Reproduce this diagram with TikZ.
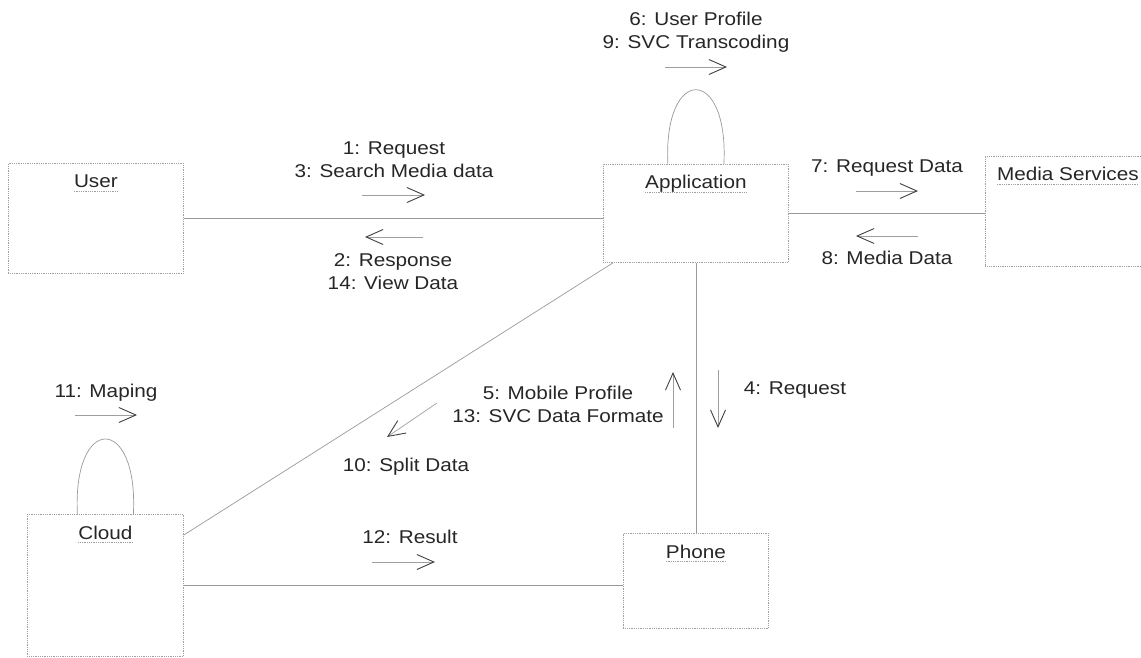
\documentclass[tikz,border=0pt]{standalone}
\usepackage{fontspec}
\setmainfont{Liberation Sans}[FakeStretch=1.12]
\usetikzlibrary{arrows.meta}
\begin{document}
\begin{tikzpicture}[x=1pt,y=-1pt,
  box/.style={draw=gray!75, densely dotted, line width=0.8pt, inner sep=0pt, anchor=north west},
  objname/.style={anchor=base, inner sep=0pt, text=black!85, font=\fontsize{18.5}{22}\selectfont},
  uline/.style={draw=gray!75, densely dotted, line width=0.8pt},
  link/.style={draw=gray!80, line width=0.7pt},
  msg/.style={draw=gray!75, line width=0.7pt, -{Straight Barb[length=17pt,width=15pt,line width=0.9pt,color=black!75]}},
  lbl/.style={text=black!85, font=\fontsize{18.5}{23}\selectfont, align=center, inner sep=0pt}]
\useasboundingbox (0,0) rectangle (1141,658);

% objects
\node[box, minimum width=175pt, minimum height=110pt] (user)  at (8,163)   {};
\node[box, minimum width=185pt, minimum height=98pt]  (app)   at (603,164) {};
\node[box, minimum width=165pt, minimum height=110pt] (media) at (985,156) {};
\node[box, minimum width=156pt, minimum height=142pt] (cloud) at (27,514)  {};
\node[box, minimum width=145pt, minimum height=95pt]  (phone) at (623,533) {};

% object names, underlined
\foreach \o/\t in {user/User, app/Application, media/Media Services, cloud/Cloud, phone/Phone}{
  \node[objname] (\o name) at ([yshift=-25pt]\o.north) {\t};
  \draw[uline] ([yshift=-3.5pt]\o name.base west) -- ([yshift=-3.5pt]\o name.base east);
}

% links
\draw[link] (user.east) -- (user.east -| app.west);
\draw[link] (app.east) -- (app.east -| media.west);
\draw[link] (app.south) -- (phone.north);
\draw[link] ([xshift=10pt]app.south west) -- ([yshift=-21pt]cloud.north east);
\draw[link] (cloud.east) -- (cloud.east -| phone.west);
\draw[link] ([xshift=-28pt]app.north) .. controls +(-5,-99) and +(5,-99) .. ([xshift=28pt]app.north);
\draw[link] ([xshift=-28pt]cloud.north) .. controls +(-5,-100) and +(5,-100) .. ([xshift=28pt]cloud.north);

% message arrow end points
\coordinate (m1a) at (362,195);  \coordinate (m1b) at (425,195);
\coordinate (m2a) at (423,237);  \coordinate (m2b) at (365,237);
\coordinate (m6a) at (665,67);   \coordinate (m6b) at (727,67);
\coordinate (m7a) at (856,191);  \coordinate (m7b) at (918,191);
\coordinate (m8a) at (918,236);  \coordinate (m8b) at (856,236);
\coordinate (m11a) at (75,415);  \coordinate (m11b) at (137,415);
\coordinate (m10a) at (437,403); \coordinate (m10b) at (387,437);
\coordinate (m5a) at (673,428);  \coordinate (m5b) at (673,372);
\coordinate (m4a) at (718,370);  \coordinate (m4b) at (718,428);
\coordinate (m12a) at (372,562); \coordinate (m12b) at (435,562);

\foreach \m in {1,2,6,7,8,11,10,5,4,12}{
  \draw[msg] (m\m a) -- (m\m b);
}

% message labels
\node[lbl] (l1)  at (394,160) {1: Request\\3: Search Media data};
\node[lbl] (l2)  at (393,272) {2: Response\\14: View Data};
\node[lbl] (l6)  at (696,32)  {6: User Profile\\9: SVC Transcoding};
\node[lbl] (l7)  at (887,168) {7: Request Data};
\node[lbl] (l8)  at (887,258) {8: Media Data};
\node[lbl] (l11) at (106,393) {11: Maping};
\node[lbl] (l5)  at (558,404) {5: Mobile Profile\\13: SVC Data Formate};
\node[lbl] (l4)  at (795,390) {4: Request};
\node[lbl] (l10) at (406,467) {10: Split Data};
\node[lbl] (l12) at (410,537) {12: Result};
\end{tikzpicture}
\end{document}
